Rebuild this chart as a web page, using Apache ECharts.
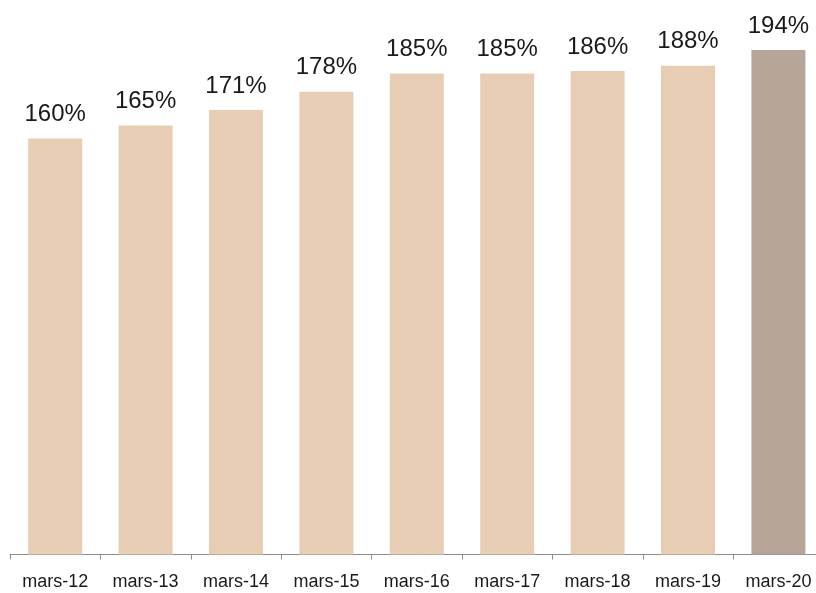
<!DOCTYPE html>
<html>
<head>
<meta charset="utf-8">
<script src="https://cdn.jsdelivr.net/npm/echarts@6/dist/echarts.min.js"></script>
<style>
  html, body { margin: 0; padding: 0; background: #ffffff; overflow: hidden; }
  #chart { width: 830px; height: 593px; }
</style>
</head>
<body>
<div id="chart"></div>
<script>
// Ratio by year-end (March), in percent
const categories = ['mars-12', 'mars-13', 'mars-14', 'mars-15', 'mars-16', 'mars-17', 'mars-18', 'mars-19', 'mars-20'];
const ratioValues = [160, 165, 171, 178, 185, 185, 186, 188, 194];

const baseColor = '#E6CDB4';
const latestColor = '#B6A598';

const chart = echarts.init(document.getElementById('chart'), null, { renderer: 'canvas' });

chart.setOption({
  animation: false,
  backgroundColor: '#ffffff',
  grid: { left: 10, top: 34.5, width: 813.6, height: 520 },
  xAxis: {
    type: 'category',
    data: categories,
    axisLine: { show: true, lineStyle: { color: '#8c8c8c', width: 1 } },
    axisTick: { show: true, inside: false, length: 5, alignWithLabel: false, lineStyle: { color: '#8c8c8c' } },
    axisLabel: {
      color: '#1a1a1a',
      fontFamily: 'Liberation Sans, Arial, sans-serif',
      fontSize: 18,
      margin: 19
    }
  },
  yAxis: {
    type: 'value',
    min: 0,
    max: 200,
    show: false,
    splitLine: { show: false }
  },
  series: [{
    type: 'bar',
    barWidth: 54,
    data: ratioValues.map((v, i) => ({
      value: v,
      itemStyle: { color: i === ratioValues.length - 1 ? latestColor : baseColor }
    })),
    label: {
      show: true,
      position: 'top',
      distance: 12,
      color: '#1a1a1a',
      fontFamily: 'Liberation Sans, Arial, sans-serif',
      fontSize: 24,
      formatter: p => p.value + '%'
    }
  }]
});
</script>
</body>
</html>
